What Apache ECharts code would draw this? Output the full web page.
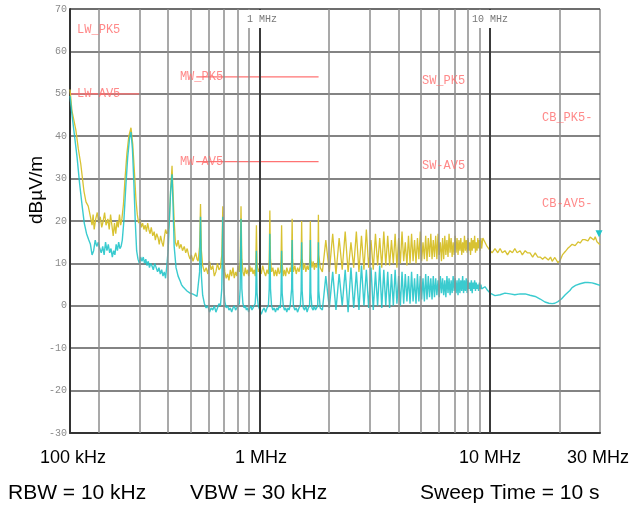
<!DOCTYPE html>
<html>
<head>
<meta charset="utf-8">
<script src="https://cdn.jsdelivr.net/npm/echarts@6/dist/echarts.min.js"></script>
<style>
    html, body { margin: 0; padding: 0; background: #fff; }
    #chart { width: 631px; height: 506px; }
</style>
</head>
<body>
<div id="chart"></div>
<script>
// 频谱数据 (MHz, dBµV/m)
// 峰值 / 平均值 150 kHz - 550 kHz
var peakLW = [
    [0.150, 51], [0.153, 46], [0.159, 41.5], [0.163, 37], [0.167, 33.5], [0.1725, 27], [0.176, 24.5],
    [0.180, 23.5], [0.184, 21], [0.187, 19], [0.189, 21.5], [0.191, 18], [0.194, 20.5], [0.197, 22],
    [0.200, 19.5], [0.203, 21], [0.206, 18.5], [0.209, 20], [0.212, 22], [0.215, 19], [0.219, 20.5],
    [0.222, 18], [0.225, 21.5], [0.228, 19], [0.231, 16.5], [0.234, 19.5], [0.237, 17], [0.240, 20],
    [0.243, 18.5], [0.246, 21.5], [0.249, 19], [0.252, 20.5], [0.256, 24], [0.260, 30], [0.265, 36],
    [0.270, 40], [0.276, 42], [0.281, 38], [0.286, 31], [0.290, 25], [0.294, 21.5], [0.298, 19.5],
    [0.302, 20.5], [0.306, 18.5], [0.310, 19.5], [0.314, 18], [0.318, 19], [0.322, 17.5], [0.326, 19.5],
    [0.330, 18], [0.334, 17], [0.338, 18.5], [0.343, 16.5], [0.348, 17.5], [0.352, 15.5], [0.357, 17],
    [0.362, 16], [0.366, 14.5], [0.371, 16.5], [0.376, 15], [0.381, 14], [0.386, 16.5], [0.390, 18],
    [0.395, 17], [0.400, 17.5], [0.405, 20], [0.410, 27], [0.416, 33], [0.420, 27], [0.425, 20],
    [0.430, 15], [0.436, 14], [0.442, 15.5], [0.448, 13.5], [0.455, 14.5], [0.462, 13], [0.470, 14],
    [0.477, 12.5], [0.484, 13.5], [0.491, 12], [0.498, 11], [0.505, 12], [0.513, 10.5], [0.520, 11.5],
    [0.527, 12.5], [0.534, 11], [0.540, 10.5]
];
var avgLW = [
    [0.150, 49.5], [0.153, 45], [0.157, 40], [0.161, 35], [0.165, 29], [0.169, 24], [0.173, 19.5],
    [0.177, 17], [0.181, 15.5], [0.184, 14.5], [0.187, 12], [0.190, 13], [0.193, 15.5], [0.196, 14],
    [0.199, 15], [0.202, 13.5], [0.205, 12.5], [0.208, 14], [0.211, 12], [0.214, 15], [0.217, 13],
    [0.220, 14.5], [0.223, 12.5], [0.226, 13.5], [0.229, 11.5], [0.232, 13], [0.235, 12], [0.238, 14.5],
    [0.241, 13], [0.244, 15], [0.247, 13.5], [0.250, 14], [0.253, 15.5], [0.257, 20], [0.262, 28],
    [0.267, 35], [0.272, 39.5], [0.276, 41], [0.280, 37], [0.284, 29], [0.288, 20], [0.292, 13],
    [0.296, 11], [0.300, 10], [0.304, 11.5], [0.308, 10.5], [0.312, 11.5], [0.316, 10], [0.320, 11],
    [0.324, 9.5], [0.328, 10.5], [0.332, 9], [0.336, 10], [0.340, 9.5], [0.345, 8.5], [0.350, 10],
    [0.355, 9], [0.360, 8], [0.365, 9], [0.370, 7.5], [0.375, 8.5], [0.380, 7], [0.385, 8], [0.390, 6.5],
    [0.395, 9.5], [0.400, 13], [0.405, 20], [0.410, 27], [0.416, 31], [0.420, 24], [0.425, 14],
    [0.433, 9], [0.442, 7], [0.450, 6], [0.457, 5], [0.464, 4.5], [0.473, 4], [0.483, 3.5], [0.490, 3.8],
    [0.498, 3], [0.510, 2.8], [0.523, 2.5], [0.534, 2.2], [0.540, 2]
];
// 0.55 MHz - 1.8 MHz 谐波
var peakMid = [
    [0.548, 14], [0.553, 24], [0.558, 13], [0.565, 9.5], [0.575, 8], [0.585, 9], [0.595, 7.5], [0.605, 10.5],
    [0.615, 8.5], [0.625, 9.5], [0.635, 7], [0.645, 8], [0.655, 10], [0.665, 8.5], [0.675, 9], [0.684, 12],
    [0.691, 23.5], [0.697, 12], [0.705, 8], [0.715, 6.5], [0.725, 7.5], [0.735, 6], [0.745, 8.5], [0.755, 7],
    [0.765, 9], [0.775, 6.5], [0.785, 8], [0.795, 7], [0.805, 9.5], [0.815, 8], [0.822, 11], [0.829, 23.5],
    [0.836, 11], [0.845, 8], [0.855, 7], [0.865, 9], [0.875, 7.5], [0.885, 8.5], [0.895, 7], [0.905, 9.5],
    [0.915, 8], [0.925, 9], [0.935, 7.5], [0.945, 8.5], [0.955, 7], [0.961, 10], [0.967, 19], [0.973, 10],
    [0.985, 8], [1.0, 9], [1.015, 7.5], [1.03, 9.5], [1.045, 8], [1.06, 7], [1.075, 8.5], [1.09, 7.5],
    [1.099, 11], [1.106, 22.5], [1.113, 11], [1.125, 8], [1.14, 9], [1.155, 7], [1.17, 8.5], [1.185, 7],
    [1.20, 9], [1.215, 7.5], [1.228, 8], [1.237, 11], [1.244, 19], [1.251, 10], [1.265, 7], [1.28, 8.5],
    [1.295, 7], [1.31, 9], [1.325, 8], [1.34, 7.5], [1.355, 9], [1.366, 8], [1.375, 11], [1.382, 20.5],
    [1.389, 11], [1.40, 8], [1.42, 9.5], [1.44, 7.5], [1.46, 9], [1.48, 8], [1.50, 9.5], [1.512, 11],
    [1.520, 20], [1.528, 11], [1.545, 8.5], [1.565, 10], [1.585, 8], [1.605, 9.5], [1.625, 8.5], [1.645, 10],
    [1.650, 12], [1.658, 20], [1.666, 11], [1.685, 9], [1.705, 10.5], [1.725, 8.5], [1.745, 10], [1.765, 9],
    [1.785, 10.5], [1.790, 12], [1.797, 21.5], [1.804, 12], [1.83, 9], [1.87, 8]
];
var avgMid = [
    [0.548, 8], [0.553, 21], [0.558, 7], [0.565, 2.5], [0.575, 0.5], [0.585, -0.5], [0.595, 0], [0.605, -1.5],
    [0.615, -0.5], [0.625, -1], [0.635, 0], [0.645, -1.5], [0.655, -0.5], [0.665, 0.5], [0.675, 0], [0.684, 4],
    [0.691, 21], [0.697, 5], [0.705, 1], [0.715, -0.5], [0.725, 0], [0.735, -1], [0.745, -0.5], [0.755, -1.5],
    [0.765, -0.5], [0.775, 0], [0.785, -1], [0.795, -0.5], [0.805, 0], [0.815, 0.5], [0.822, 4], [0.829, 20.5],
    [0.836, 4], [0.845, 0.5], [0.855, -0.5], [0.865, 0], [0.875, -1], [0.885, -0.5], [0.895, -1.5], [0.905, -0.5],
    [0.915, 0], [0.925, -1], [0.935, -0.5], [0.945, 0], [0.955, 0.5], [0.961, 3], [0.967, 13], [0.973, 3],
    [0.985, 0], [1.0, -1], [1.015, -2], [1.03, -1], [1.045, -0.5], [1.06, -1.5], [1.075, -0.5], [1.09, 0],
    [1.099, 4], [1.106, 17], [1.113, 4], [1.125, 0], [1.14, -1], [1.155, -0.5], [1.17, -1.5], [1.185, -0.5],
    [1.20, -1], [1.215, 0], [1.228, -0.5], [1.237, 3], [1.244, 13], [1.251, 3], [1.265, 0], [1.28, -1],
    [1.295, -0.5], [1.31, -1.5], [1.325, -0.5], [1.34, -1], [1.355, 0], [1.366, 0], [1.375, 4], [1.382, 15.5],
    [1.389, 4], [1.40, 0], [1.42, -1], [1.44, -0.5], [1.46, -1.5], [1.48, -0.5], [1.50, 0], [1.512, 3.5],
    [1.520, 15], [1.528, 3.5], [1.545, -0.5], [1.565, -1], [1.585, 0], [1.605, -1.5], [1.625, -0.5], [1.645, 0],
    [1.650, 3], [1.658, 15.5], [1.666, 3], [1.685, -0.5], [1.705, -1], [1.725, 0], [1.745, -1], [1.765, -0.5],
    [1.785, 0], [1.790, 3.5], [1.797, 15], [1.804, 3.5], [1.83, -0.5], [1.87, -1]
];
// 1.9 MHz - 9.2 MHz 密集谐波: 尖峰频率, 之后的谷底频率
var denseF = [
    1.935, 2.073, 2.211, 2.349, 2.488, 2.626, 2.764, 2.902, 3.040, 3.179, 3.317, 3.455,
    3.593, 3.731, 3.870, 4.008, 4.146, 4.284, 4.422, 4.561, 4.699, 4.837, 4.975, 5.113, 5.252, 5.390, 5.528,
    5.666, 5.804, 5.943, 6.081, 6.219, 6.357, 6.495, 6.634, 6.772, 6.910, 7.048, 7.186, 7.325, 7.463, 7.601,
    7.739, 7.877, 8.016, 8.154, 8.292, 8.430, 8.568, 8.707, 8.845, 8.983, 9.121
];
var denseGapF = [
    2.004, 2.142, 2.280, 2.418, 2.557, 2.695, 2.833, 2.971, 3.110, 3.248, 3.386, 3.524,
    3.662, 3.800, 3.939, 4.077, 4.215, 4.353, 4.492, 4.630, 4.768, 4.906, 5.044, 5.183, 5.321, 5.459, 5.597,
    5.735, 5.874, 6.012, 6.150, 6.288, 6.426, 6.565, 6.703, 6.841, 6.979, 7.117, 7.256, 7.394, 7.532, 7.670,
    7.808, 7.947, 8.085, 8.223, 8.361, 8.499, 8.638, 8.776, 8.914, 9.052, 9.190
];
var pkDenseTop = [
    15.5, 17, 16, 17.5, 15, 17.5, 16.5, 18, 15.5, 17, 16, 17.5,
    16.5, 15.5, 17, 16, 17.5, 15, 16.5, 17, 15.5, 16, 17.5, 15, 16.5, 16, 17,
    15.5, 16.5, 17, 15, 16, 16.5, 15.5, 17, 16, 15, 16.5, 16, 15.5, 16, 15, 16.5, 15.5, 16, 15, 16, 15.5, 16.5, 15, 16, 15.5, 16
];
var pkDenseLow = [
    8, 7.5, 8.5, 8, 9, 8, 8.5, 9, 8.5, 9.5, 9, 9.5,
    9.5, 10, 9, 10, 10.5, 9.5, 10, 10.5, 10, 11, 10.5, 11, 10.5, 11.5, 11,
    11.5, 11, 12, 10.5, 11, 12, 11.5, 12.5, 11.5, 12, 12.5, 12, 13, 12, 12.5, 13, 12.5, 13, 12, 13, 13.5, 12.5, 13, 13.5, 13, 13.5
];
var avDenseTop = [
    7, 8, 7.5, 8.5, 9, 8, 9.5, 8.5, 9, 8, 9.5, 8.5,
    8, 7.5, 8.5, 7, 8, 7.5, 7, 8, 6.5, 7.5, 7, 6.5, 7.5, 7, 6.5,
    7, 6.5, 6, 7, 6.5, 6, 7, 6.5, 6, 7, 6.5, 6, 6.5, 6, 7, 6, 6.5, 6, 5.5, 6, 5.5, 6, 5.5, 5, 5.5, 5
];
var avDenseLow = [
    -0.5, -1, 0, -1.5, -0.5, -1, 0, -0.5, -1, 0, -0.5, 0,
    -0.5, 0, 0.5, 0, 0.5, 1, 0.5, 1, 0.5, 1, 1.5, 1, 1.5, 2, 1.5,
    2, 2.5, 2, 3, 2.5, 2, 3, 2.5, 3, 3.5, 3, 2.5, 3, 3.5, 3, 3.5, 3, 4, 3.5, 3, 4, 3.5, 4, 3.5, 4, 4
];
// 9.2 MHz - 30 MHz
var peakHF = [
    [9.3, 16], [9.5, 15], [9.7, 14], [10.0, 13], [10.2, 12.5], [10.5, 13.5], [10.8, 12.5], [11.05, 13.5],
    [11.3, 12.5], [11.6, 13], [11.9, 12], [12.2, 13], [12.5, 12.5], [12.8, 13.5], [13.1, 12.5], [13.5, 13],
    [13.8, 12], [14.2, 13], [14.5, 12.5], [14.9, 12.5], [15.3, 11.5], [15.7, 12.5], [16.1, 11.5], [16.5, 11.5],
    [16.9, 11], [17.3, 11.5], [17.9, 10.8], [18.3, 11.5], [18.6, 10.5], [19.1, 11.4], [19.7, 10.2], [20.1, 10.6],
    [20.6, 12], [21.2, 12.8], [21.7, 13.5], [22.2, 14], [22.7, 14.5], [23.4, 14.2], [24.1, 15.1], [24.6, 14.8],
    [25.2, 15.6], [25.8, 15.6], [26.6, 15.3], [27.2, 16.2], [27.7, 16], [28.2, 15.5], [28.6, 16.3], [29.1, 15.1],
    [29.5, 15.5], [30, 14.4]
];
var avgHF = [
    [9.3, 4.3], [9.5, 4.5], [9.7, 3.8], [10.0, 3], [10.5, 2.4], [11.05, 2.6], [11.6, 3], [12.2, 2.8],
    [12.8, 2.6], [13.5, 2.8], [14.2, 2.8], [14.9, 2.5], [15.7, 2.2], [16.5, 1.6], [17.3, 0.9], [18.0, 0.6],
    [18.6, 0.5], [19.1, 0.6], [19.7, 1], [20.4, 1.6], [21.2, 2.6], [22.2, 3.6], [22.7, 4.3], [23.5, 4.8],
    [24.6, 5.2], [25.8, 5.5], [26.6, 5.5], [27.7, 5.4], [28.6, 5.2], [30, 4.8]
];

// 限值线
var limitLWav = [[0.15, 50], [0.30, 50]];
var limitMWpk = [[0.53, 54], [1.8, 54]];
var limitMWav = [[0.53, 34], [1.8, 34]];
var limitLabels = [
    [0.161, 65, 'LW_PK5'], [0.161, 50, 'LW-AV5'],
    [0.450, 54, 'MW_PK5'], [0.450, 34, 'MW-AV5'],
    [5.06, 53, 'SW_PK5'], [5.06, 33, 'SW-AV5'],
    [16.8, 44.3, 'CB_PK5-'], [16.8, 24.1, 'CB-AV5-']
];
// 网格
var minorGrid = [0.2, 0.3, 0.4, 0.5, 0.6, 0.7, 0.8, 0.9, 2, 3, 4, 5, 6, 7, 8, 9, 20];
var majorGrid = [1, 10];
var freqLabels = ['100 kHz', '1 MHz', '10 MHz', '30 MHz'];
var infoLabels = ['RBW = 10 kHz', 'VBW = 30 kHz', 'Sweep Time = 10 s'];

function weave(f, g, top, low) {
    var out = [];
    for (var i = 0; i < f.length; i++) {
        out.push([f[i], top[i]]);
        out.push([g[i], low[i]]);
    }
    return out;
}
var peakAll = peakLW.concat(peakMid, weave(denseF, denseGapF, pkDenseTop, pkDenseLow), peakHF);
var avgAll = avgLW.concat(avgMid, weave(denseF, denseGapF, avDenseTop, avDenseLow), avgHF);

var chart = echarts.init(document.getElementById('chart'));

var gridLines = minorGrid.map(function (v) {
    return { xAxis: v, lineStyle: { color: '#8c8c8c', width: 1.5, type: 'solid' } };
}).concat(majorGrid.map(function (v) {
    return { xAxis: v, lineStyle: { color: '#3a3a3a', width: 2, type: 'solid' } };
}));

var limitStyle = { color: '#ff7373', width: 1.2 };
var mono = 'Liberation Mono';

function txt(x, y, s, font, color, align, extra) {
    var st = { text: s, fill: color, font: font, align: align, verticalAlign: 'middle' };
    for (var k in extra) { st[k] = extra[k]; }
    return { type: 'text', x: x, y: y, z: 100, style: st };
}

var option = {
    animation: false,
    grid: { left: 70, right: 31, top: 9, bottom: 73, show: true, borderColor: '#555', borderWidth: 1 },
    xAxis: {
        type: 'log', logBase: 10, min: 0.15, max: 30,
        axisLabel: { show: false },
        axisTick: { show: false },
        splitLine: { show: false },
        axisLine: { show: true, onZero: false, lineStyle: { color: '#333', width: 2 } }
    },
    yAxis: {
        type: 'value', min: -30, max: 70, interval: 10,
        axisLabel: { color: '#8a8a8a', fontFamily: mono, fontSize: 10, margin: 3 },
        axisTick: { show: false },
        axisLine: { show: true, lineStyle: { color: '#333', width: 2 } },
        splitLine: { show: true, lineStyle: { color: '#5a5a5a', width: 1.5 } }
    },
    series: [
        {
            // 竖直网格线
            type: 'line', data: [], z: 1, silent: true,
            markLine: { silent: true, symbol: 'none', label: { show: false }, lineStyle: { type: 'solid' }, data: gridLines }
        },
        { type: 'line', data: limitLWav, showSymbol: false, lineStyle: limitStyle, z: 2 },
        { type: 'line', data: limitMWpk, showSymbol: false, lineStyle: limitStyle, z: 2 },
        { type: 'line', data: limitMWav, showSymbol: false, lineStyle: limitStyle, z: 2 },
        {
            name: 'PK', type: 'line', data: peakAll, showSymbol: false, z: 3,
            lineStyle: { color: '#d8c232', width: 1.3 }
        },
        {
            name: 'AV', type: 'line', data: avgAll, showSymbol: false, z: 4,
            lineStyle: { color: '#1fc4c8', width: 1.4, opacity: 0.88 },
            markPoint: {
                symbol: 'triangle', symbolRotate: 180, symbolSize: 7,
                itemStyle: { color: '#1fc4c8' }, label: { show: false },
                data: [{ coord: [29.7, 17] }]
            }
        },
        {
            type: 'scatter', symbolSize: 0, z: 5, silent: true,
            data: limitLabels,
            label: {
                show: true, position: 'right', distance: 0,
                formatter: function (p) { return p.data[2]; },
                color: '#ff6b6b', fontFamily: mono, fontSize: 12
            }
        }
    ],
    graphic: [
        txt(262, 19, '1 MHz', '10px "Liberation Mono"', '#777', 'center', { backgroundColor: '#fff', padding: [4, 2] }),
        txt(490, 19, '10 MHz', '10px "Liberation Mono"', '#777', 'center', { backgroundColor: '#fff', padding: [4, 2] }),
        {
            type: 'text', x: 37, y: 190, rotation: Math.PI / 2, z: 100,
            style: { text: 'dBµV/m', fill: '#000', font: '19px "Liberation Sans"', align: 'center', verticalAlign: 'middle' }
        },
        txt(73, 458, freqLabels[0], '18px "Liberation Sans"', '#000', 'center', {}),
        txt(261, 458, freqLabels[1], '18px "Liberation Sans"', '#000', 'center', {}),
        txt(490, 458, freqLabels[2], '18px "Liberation Sans"', '#000', 'center', {}),
        txt(598, 458, freqLabels[3], '18px "Liberation Sans"', '#000', 'center', {}),
        txt(8, 493, infoLabels[0], '21px "Liberation Sans"', '#000', 'left', {}),
        txt(190, 493, infoLabels[1], '21px "Liberation Sans"', '#000', 'left', {}),
        txt(420, 493, infoLabels[2], '21px "Liberation Sans"', '#000', 'left', {})
    ]
};

chart.setOption(option);
</script>
</body>
</html>
